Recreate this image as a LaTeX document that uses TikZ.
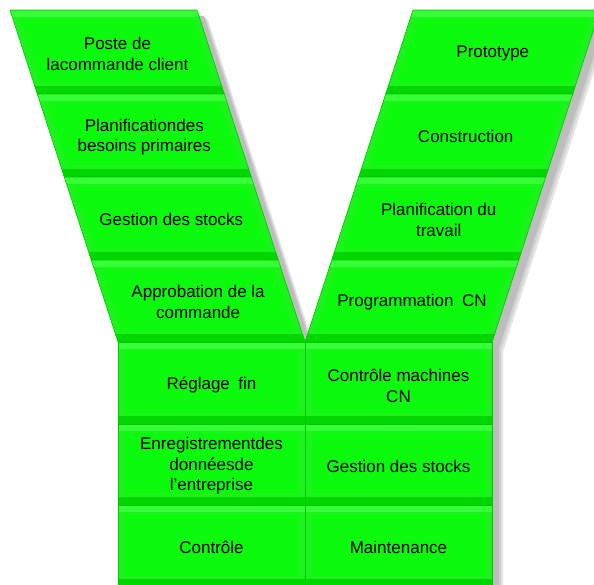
\documentclass[tikz,border=0pt]{standalone}
\usepackage{fontspec}
\setmainfont{Liberation Sans}
\usetikzlibrary{calc}
\definecolor{cellmid}{RGB}{28,242,28}
\definecolor{celllight}{RGB}{55,255,55}
\definecolor{celldark}{RGB}{0,214,0}
\definecolor{cellface}{RGB}{12,250,12}
\definecolor{celledge}{RGB}{0,200,0}
\newcommand\gcell[6]{%
  \begin{scope}
    \clip (#1,#5)--(#2,#5)--(#4,#6)--(#3,#6)--cycle;
    \fill[cellmid] (0,#5) rectangle (620,#6);
    \fill[celllight] (0,#5) rectangle (620,#5+7);
    \fill[celldark] (0,#6-8) rectangle (620,#6);
    \fill[cellface] ($(#1,#5)!0.11!(#3,#6)+(7,0)$) -- ($(#2,#5)!0.11!(#4,#6)+(-7,0)$)
       -- ($(#2,#5)!0.87!(#4,#6)+(-7,0)$) -- ($(#1,#5)!0.87!(#3,#6)+(7,0)$) -- cycle;
  \end{scope}
  \draw[celledge, line width=0.6pt] (#1,#5)--(#2,#5)--(#4,#6)--(#3,#6)--cycle;
}
\tikzset{lbl/.style={font=\fontsize{17}{20.5}\selectfont, align=center, text=black, inner sep=0pt}}
\begin{document}
\begin{tikzpicture}[x=1pt,y=-1pt]
\useasboundingbox (0,0) rectangle (594,585);
\clip (0,0) rectangle (594,585);
\fill[white] (0,0) rectangle (594,585);
% shadow
\foreach \dx/\dy/\c in {11/10/black!10, 9/8/black!18, 7/6/black!26}{
  \fill[\c] (10+\dx,10+\dy) -- (197+\dx,10+\dy) -- (305+\dx,342+\dy) -- (413+\dx,10+\dy) -- (600+\dx,10+\dy)
    -- (492+\dx,342+\dy) -- (492+\dx,590+\dy) -- (118+\dx,590+\dy) -- (118+\dx,342+\dy) -- cycle;
}
% left arm
\gcell{10}{197}{37.3}{224.3}{10}{94}
\gcell{37.3}{224.3}{64.28}{251.28}{94}{177}
\gcell{64.28}{251.28}{91.25}{278.25}{177}{260}
\gcell{91.25}{278.25}{118}{305}{260}{342}
% right arm
\gcell{413}{600}{385.7}{572.7}{10}{94}
\gcell{385.7}{572.7}{358.72}{545.72}{94}{177}
\gcell{358.72}{545.72}{331.75}{518.75}{177}{260}
\gcell{331.75}{518.75}{305}{492}{260}{342}
% bottom
\gcell{118}{305}{118}{305}{342}{424}
\gcell{305}{492}{305}{492}{342}{424}
\gcell{118}{305}{118}{305}{424}{505}
\gcell{305}{492}{305}{492}{424}{505}
\gcell{118}{305}{118}{305}{505}{587}
\gcell{305}{492}{305}{492}{505}{587}
% labels
\node[lbl] (l1) at (117.5,54) {Poste de\\lacommande client};
\node[lbl] (l2) at (144.3,137) {Planificationdes\\besoins primaires};
\node[lbl] (l3) at (171.3,219) {Gestion des stocks};
\node[lbl] (l4) at (198.1,302) {Approbation de la\\commande};
\node[lbl] (r1) at (492.8,53) {Prototype};
\node[lbl] (r2) at (465.7,136) {Construction};
\node[lbl] (r3) at (438.7,220) {Planification du\\travail};
\node[lbl] (r4) at (412,302) {Programmation\enspace CN};
\node[lbl] (b1) at (211.5,385) {Réglage\enspace fin};
\node[lbl] (b2) at (398.5,386) {Contrôle machines\\CN};
\node[lbl] (b3) at (211.5,466) {Enregistrementdes\\donnéesde\\l'entreprise};
\node[lbl] (b4) at (398.5,466) {Gestion des stocks};
\node[lbl] (b5) at (211.5,547) {Contrôle};
\node[lbl] (b6) at (398.5,547) {Maintenance};
\end{tikzpicture}
\end{document}
